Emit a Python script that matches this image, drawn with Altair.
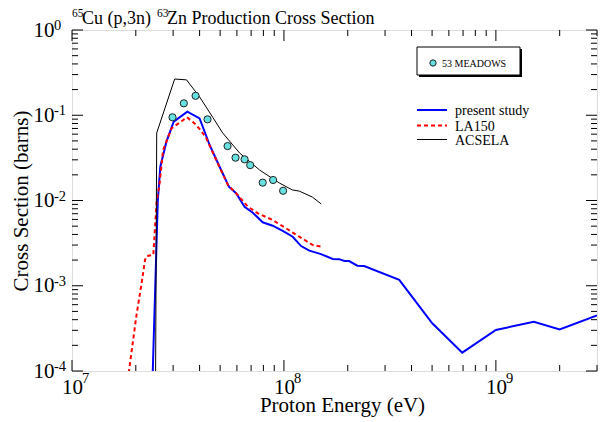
import altair as alt
import pandas as pd

# ---------------- data ----------------
ps_e = [2.34e7, 2.54e7, 2.61e7, 2.79e7, 3.02e7, 3.50e7, 4.0e7, 4.46e7, 4.97e7, 5.50e7,
        5.96e7, 6.52e7, 7.13e7, 7.94e7, 8.85e7, 9.87e7, 1.10e8, 1.205e8, 1.318e8, 1.496e8,
        1.70e8, 1.82e8, 1.93e8, 2.03e8, 2.22e8, 2.39e8, 3.50e8, 5.01e8, 6.94e8, 1.0e9,
        1.51e9, 2.0e9, 3.0e9]
ps_s = [1e-5, 1.0e-2, 0.0249, 0.049, 0.084, 0.110, 0.092, 0.0448, 0.0249, 0.0145,
        0.0121, 8.45e-3, 7.2e-3, 5.55e-3, 5.06e-3, 4.4e-3, 3.76e-3, 2.92e-3, 2.58e-3, 2.35e-3,
        2.06e-3, 2.05e-3, 1.95e-3, 1.95e-3, 1.72e-3, 1.70e-3, 1.17e-3, 3.63e-4, 1.64e-4, 3.03e-4,
        3.78e-4, 3.08e-4, 4.5e-4]

la_e = [1.64e7, 2.01e7, 2.13e7, 2.21e7, 2.25e7, 2.42e7, 2.46e7, 2.51e7, 2.58e7, 2.69e7,
        2.95e7, 3.49e7, 3.86e7, 4.27e7, 4.71e7, 5.44e7, 5.96e7, 6.76e7, 7.54e7, 8.85e7,
        1.023e8, 1.18e8, 1.37e8, 1.5e8]
la_s = [1e-5, 4.34e-4, 1.07e-3, 2.0e-3, 2.23e-3, 2.3e-3, 4.5e-3, 1e-2, 0.0145, 0.039,
        0.0703, 0.0946, 0.0769, 0.056, 0.0327, 0.0152, 0.0121, 8.45e-3, 7.08e-3, 5.9e-3,
        4.72e-3, 3.76e-3, 3.0e-3, 2.87e-3]

ac_e = [2.47e7, 2.51e7, 3.05e7, 3.47e7, 4.0e7, 4.61e7, 5.14e7, 6.18e7, 7.67e7, 9.53e7,
        1.096e8, 1.18e8, 1.36e8, 1.5e8]
ac_s = [1e-5, 0.062, 0.266, 0.26, 0.164, 0.095, 0.062, 0.036, 0.0228, 0.016,
        0.0133, 0.0129, 0.011, 0.0091]

md_e = [2.98e7, 3.37e7, 3.83e7, 4.36e7, 5.42e7, 5.91e7, 6.52e7, 6.93e7, 7.94e7, 8.89e7, 9.91e7]
md_s = [0.0946, 0.138, 0.169, 0.0895, 0.0435, 0.0318, 0.0304, 0.026, 0.0162, 0.0174, 0.013]

series_names = ["present study", "LA150", "ACSELA"]
meadows_label = "53 MEADOWS"
title_parts = ["65", "Cu (p,3n)", "63", "Zn  Production Cross Section"]

x_tick_vals = [1e7, 1e8, 1e9]
x_tick_exp = ["7", "8", "9"]
y_tick_vals = [1e-4, 1e-3, 1e-2, 1e-1, 1]
y_tick_exp = ["-4", "-3", "-2", "-1", "0"]
x_minor = [m * 10 ** k for k in (7, 8) for m in range(2, 10)] + [2e9, 3e9]
y_minor = [m * 10.0 ** k for k in (-4, -3, -2, -1) for m in range(2, 10)]

# ---------------- layout ----------------
W, H = 525, 341
FONT = "Liberation Serif"
LBL = 21      # tick label size
EXP = 14.5    # exponent size

x_scale = alt.Scale(type="log", domain=[1e7, 3e9], nice=False)
y_scale = alt.Scale(type="log", domain=[1e-4, 1], nice=False)

x_axis = alt.Axis(values=x_tick_vals, labelExpr="'10'", labelFlush=False, labelOverlap=False,
                  ticks=False, tickSize=0, domain=False, grid=False, labelPadding=5,
                  labelFont=FONT, labelFontSize=LBL, labelColor="black",
                  title="Proton Energy (eV)", titleFont=FONT, titleFontSize=21,
                  titleFontWeight="normal", titleColor="black",
                  titleX=270, titleY=34, titleBaseline="middle", titleAlign="center")
y_axis = alt.Axis(values=y_tick_vals, labelExpr="'10'", labelFlush=False, labelOverlap=False,
                  ticks=False, tickSize=0, domain=False, grid=False, labelPadding=18,
                  labelFont=FONT, labelFontSize=LBL, labelColor="black",
                  title="Cross Section (barns)", titleFont=FONT, titleFontSize=21,
                  titleFontWeight="normal", titleColor="black", titleAngle=-90,
                  titleX=-51, titleY=H / 2, titleBaseline="middle", titleAlign="center")


def X(field="E"):
    return alt.X(f"{field}:Q", scale=x_scale, axis=x_axis, title="Proton Energy (eV)")


def Y(field="S"):
    return alt.Y(f"{field}:Q", scale=y_scale, axis=y_axis, title="Cross Section (barns)")


def df_xy(e, s):
    return pd.DataFrame({"E": e, "S": s, "i": list(range(len(e)))})


def line_layer(e, s, color, width, dash=None):
    kw = dict(clip=True, color=color, strokeWidth=width, interpolate="linear")
    if dash:
        kw["strokeDash"] = dash
    return alt.Chart(df_xy(e, s)).mark_line(**kw).encode(x=X(), y=Y(), order="i:Q")


blue = line_layer(ps_e, ps_s, "#0000ff", 2)
red = line_layer(la_e, la_s, "#ff0000", 2, dash=[4, 3])
black = line_layer(ac_e, ac_s, "#000000", 1)

points = alt.Chart(df_xy(md_e, md_s)).mark_point(
    shape="circle", filled=True, fill="#66e0e0", stroke="#222222", strokeWidth=1,
    size=52, opacity=1
).encode(x=X(), y=Y())


# ---- inward ticks on all four sides ----
def xticks(vals, length):
    d = pd.DataFrame({"E": vals})
    bottom = alt.Chart(d).mark_rule(color="black", strokeWidth=1).encode(
        x=X(), y=alt.value(H), y2=alt.value(H - length))
    top = alt.Chart(d).mark_rule(color="black", strokeWidth=1).encode(
        x=X(), y=alt.value(0), y2=alt.value(length))
    return [bottom, top]


def yticks(vals, length):
    d = pd.DataFrame({"S": vals})
    left = alt.Chart(d).mark_rule(color="black", strokeWidth=1).encode(
        y=Y(), x=alt.value(0), x2=alt.value(length))
    right = alt.Chart(d).mark_rule(color="black", strokeWidth=1).encode(
        y=Y(), x=alt.value(W), x2=alt.value(W - length))
    return [left, right]


ticks = xticks(x_tick_vals, 11) + xticks(x_minor, 6) + yticks(y_tick_vals, 11) + yticks(y_minor, 6)

# ---- exponents of the tick labels ----
x_exp = alt.Chart(pd.DataFrame({"E": x_tick_vals, "t": x_tick_exp})).mark_text(
    align="left", baseline="alphabetic", font=FONT, fontSize=EXP, color="black", dx=10
).encode(x=X(), y=alt.value(H + 12), text="t:N")
y_exp = alt.Chart(pd.DataFrame({"S": y_tick_vals, "t": y_tick_exp})).mark_text(
    align="left", baseline="alphabetic", font=FONT, fontSize=EXP, color="black", dy=0
).encode(y=Y(), x=alt.value(-18), text="t:N")

# ---- title (with superscript mass numbers) ----
tdf = pd.DataFrame({"t": title_parts})
t_sizes = [11.5, 18, 11.5, 18]
t_x = [0, 10, 85, 95]
t_y = [-13, -6, -13, -6]
title_layers = []
for i, (sz, xx, yy) in enumerate(zip(t_sizes, t_x, t_y)):
    title_layers.append(alt.Chart(tdf.iloc[[i]]).mark_text(
        align="left", baseline="alphabetic", font=FONT, fontSize=sz, color="black"
    ).encode(x=alt.value(xx), y=alt.value(yy), text="t:N"))

# ---- MEADOWS legend box ----
box_df = pd.DataFrame({"label": [meadows_label]})
shadow = alt.Chart(box_df).mark_rect(fill="#000000").encode(
    x=alt.value(347), x2=alt.value(450), y=alt.value(19), y2=alt.value(47))
box = alt.Chart(box_df).mark_rect(fill="white", stroke="black", strokeWidth=1).encode(
    x=alt.value(345), x2=alt.value(448), y=alt.value(17), y2=alt.value(45))
box_dot = alt.Chart(box_df).mark_point(
    shape="circle", filled=True, fill="#66e0e0", stroke="#222222", strokeWidth=1, size=40, opacity=1
).encode(x=alt.value(361), y=alt.value(33))
box_txt = alt.Chart(box_df).mark_text(
    align="left", baseline="middle", font=FONT, fontSize=10, color="black"
).encode(x=alt.value(370), y=alt.value(33.5), text="label:N")

# ---- line legend ----
leg_styles = [("#0000ff", 2, None), ("#ff0000", 2, [4, 3]), ("#000000", 1, None)]
leg_y = [80, 95.5, 109.5]
legend_layers = []
for name, (col, w, dash), yy in zip(series_names, leg_styles, leg_y):
    d = pd.DataFrame({"name": [name]})
    kw = dict(color=col, strokeWidth=w)
    if dash:
        kw["strokeDash"] = dash
    legend_layers.append(alt.Chart(d).mark_rule(**kw).encode(
        x=alt.value(345), x2=alt.value(375), y=alt.value(yy)))
    legend_layers.append(alt.Chart(d).mark_text(
        align="left", baseline="middle", font=FONT, fontSize=14, color="black"
    ).encode(x=alt.value(383), y=alt.value(yy + 1), text="name:N"))

chart = alt.layer(
    blue, red, black, points, *ticks, x_exp, y_exp, *title_layers,
    shadow, box, box_dot, box_txt, *legend_layers
).properties(
    width=W, height=H,
    autosize=alt.AutoSizeParams(type="none"),
    padding={"left": 72, "top": 30, "right": 5, "bottom": 51},
    background="white",
).configure_view(
    stroke="black", strokeWidth=1.5
).configure_axis(
    labelFont=FONT, titleFont=FONT
).configure(font=FONT)

chart.save("out.html", embed_options={"renderer": "svg", "actions": False})
